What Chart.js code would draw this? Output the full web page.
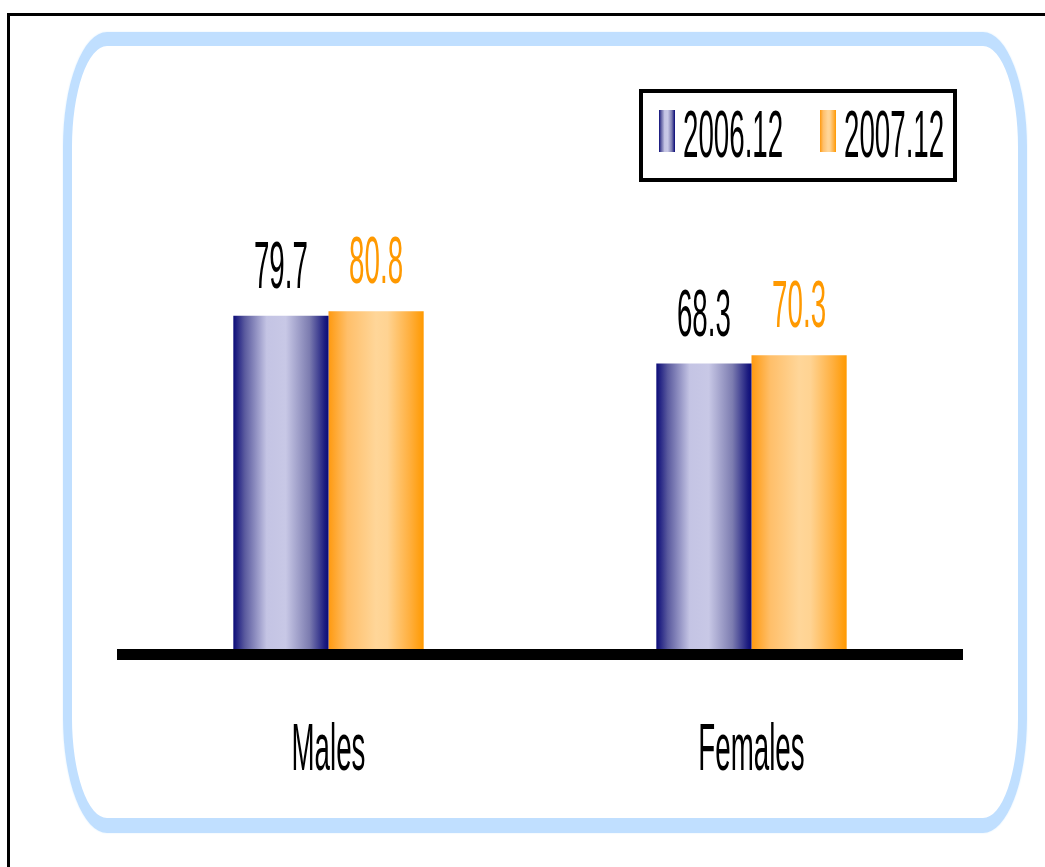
<!DOCTYPE html>
<html>
<head>
<meta charset="utf-8">
<script src="https://cdn.jsdelivr.net/npm/chart.js@4.4.0/dist/chart.umd.min.js"></script>
<style>
html, body { margin: 0; padding: 0; background: #fff; overflow: hidden; }
#frame { position: absolute; left: 7px; top: 13px; width: 1100px; height: 900px; border: 3px solid #000; box-sizing: border-box; }
#panel { position: absolute; left: 63px; top: 32px; width: 964px; height: 801px; box-sizing: border-box;
         border-style: solid; border-color: #c0dfff; border-width: 14px 9px 15px 9px;
         border-radius: 44px / 115px; box-shadow: 0 0 2px #dcefff; }
#wrap { position: absolute; left: 0; top: 0; width: 1045px; height: 867px; }
</style>
</head>
<body>
<div id="frame"></div>
<div id="panel"></div>
<div id="wrap"><canvas id="chart" width="1045" height="867"></canvas></div>
<script>
const categories = ['Males', 'Females'];
const seriesNames = ['2006.12', '2007.12'];
const values2006 = [79.7, 68.3];
const values2007 = [80.8, 70.3];

const labelColors = ['#000000', '#ff9900'];
const gradientStops = [
    [[0, '#0b0b78'], [0.12, '#5a5a9e'], [0.35, '#c4c4e4'], [0.55, '#c8c8e6'], [0.8, '#7c7cb0'], [0.96, '#1c1c80'], [1, '#0b0b78']],
    [[0, '#ff9a10'], [0.2, '#ffbf6a'], [0.5, '#ffd699'], [0.62, '#ffd392'], [0.85, '#ffb040'], [1, '#ff9900']]
];

// the original lettering is very condensed, so text is squeezed horizontally
const narrowFont = '66px "Liberation Sans", Arial, sans-serif';
const squeeze = 0.42;

function narrowText(ctx, text, x, y, color, align) {
    ctx.save();
    ctx.font = narrowFont;
    ctx.fillStyle = color;
    ctx.textBaseline = 'alphabetic';
    ctx.textAlign = align || 'center';
    ctx.translate(x, y);
    ctx.scale(squeeze, 1);
    ctx.fillText(text, 0, 0);
    ctx.restore();
}

function makeGradient(ctx, x0, x1, stops) {
    const g = ctx.createLinearGradient(x0, 0, x1, 0);
    stops.forEach(s => g.addColorStop(s[0], s[1]));
    return g;
}

const decorations = {
    id: 'decorations',
    beforeDatasetsDraw(chart) {
        const ctx = chart.ctx;
        chart.data.datasets.forEach((ds, i) => {
            chart.getDatasetMeta(i).data.forEach(el => {
                const half = el.width / 2;
                el.options = Object.assign({}, el.options, {
                    backgroundColor: makeGradient(ctx, el.x - half, el.x + half, gradientStops[i])
                });
            });
        });
    },
    afterDatasetsDraw(chart) {
        const ctx = chart.ctx;
        const area = chart.chartArea;
        const xScale = chart.scales.x;
        const y0 = chart.scales.y.getPixelForValue(0);

        // thick baseline
        ctx.fillStyle = '#000';
        ctx.fillRect(area.left, y0, area.width, 11);

        // value labels
        chart.data.datasets.forEach((ds, i) => {
            chart.getDatasetMeta(i).data.forEach((el, j) => {
                narrowText(ctx, ds.data[j].toFixed(1), el.x, el.y - 28, labelColors[i]);
            });
        });

        // category labels
        categories.forEach((c, i) => {
            narrowText(ctx, c, xScale.getPixelForValue(i), 770, '#000');
        });

        // legend box
        const lx = 639, ly = 89, lw = 318, lh = 93;
        ctx.save();
        ctx.lineWidth = 4;
        ctx.strokeStyle = '#000';
        ctx.strokeRect(lx + 2, ly + 2, lw - 4, lh - 4);
        chart.data.datasets.forEach((ds, i) => {
            const sx = lx + 20 + i * 161;
            ctx.fillStyle = makeGradient(ctx, sx, sx + 16, gradientStops[i]);
            ctx.fillRect(sx, ly + 21, 16, 42);
            narrowText(ctx, ds.label, sx + 24, ly + 68, '#000', 'left');
        });
        ctx.restore();
    }
};

new Chart(document.getElementById('chart'), {
    type: 'bar',
    data: {
        labels: categories,
        datasets: [{
            label: seriesNames[0],
            data: values2006,
            backgroundColor: '#8080c0',
            borderWidth: 0
        }, {
            label: seriesNames[1],
            data: values2007,
            backgroundColor: '#ffc060',
            borderWidth: 0
        }]
    },
    options: {
        responsive: false,
        animation: false,
        layout: { padding: { left: 117, right: 82, top: 231, bottom: 218 } },
        datasets: { bar: { barPercentage: 1, categoryPercentage: 0.45 } },
        plugins: {
            legend: { display: false },
            tooltip: { enabled: false }
        },
        scales: {
            x: { display: false },
            y: { display: false, min: 0, max: 100 }
        }
    },
    plugins: [decorations]
});
</script>
</body>
</html>
